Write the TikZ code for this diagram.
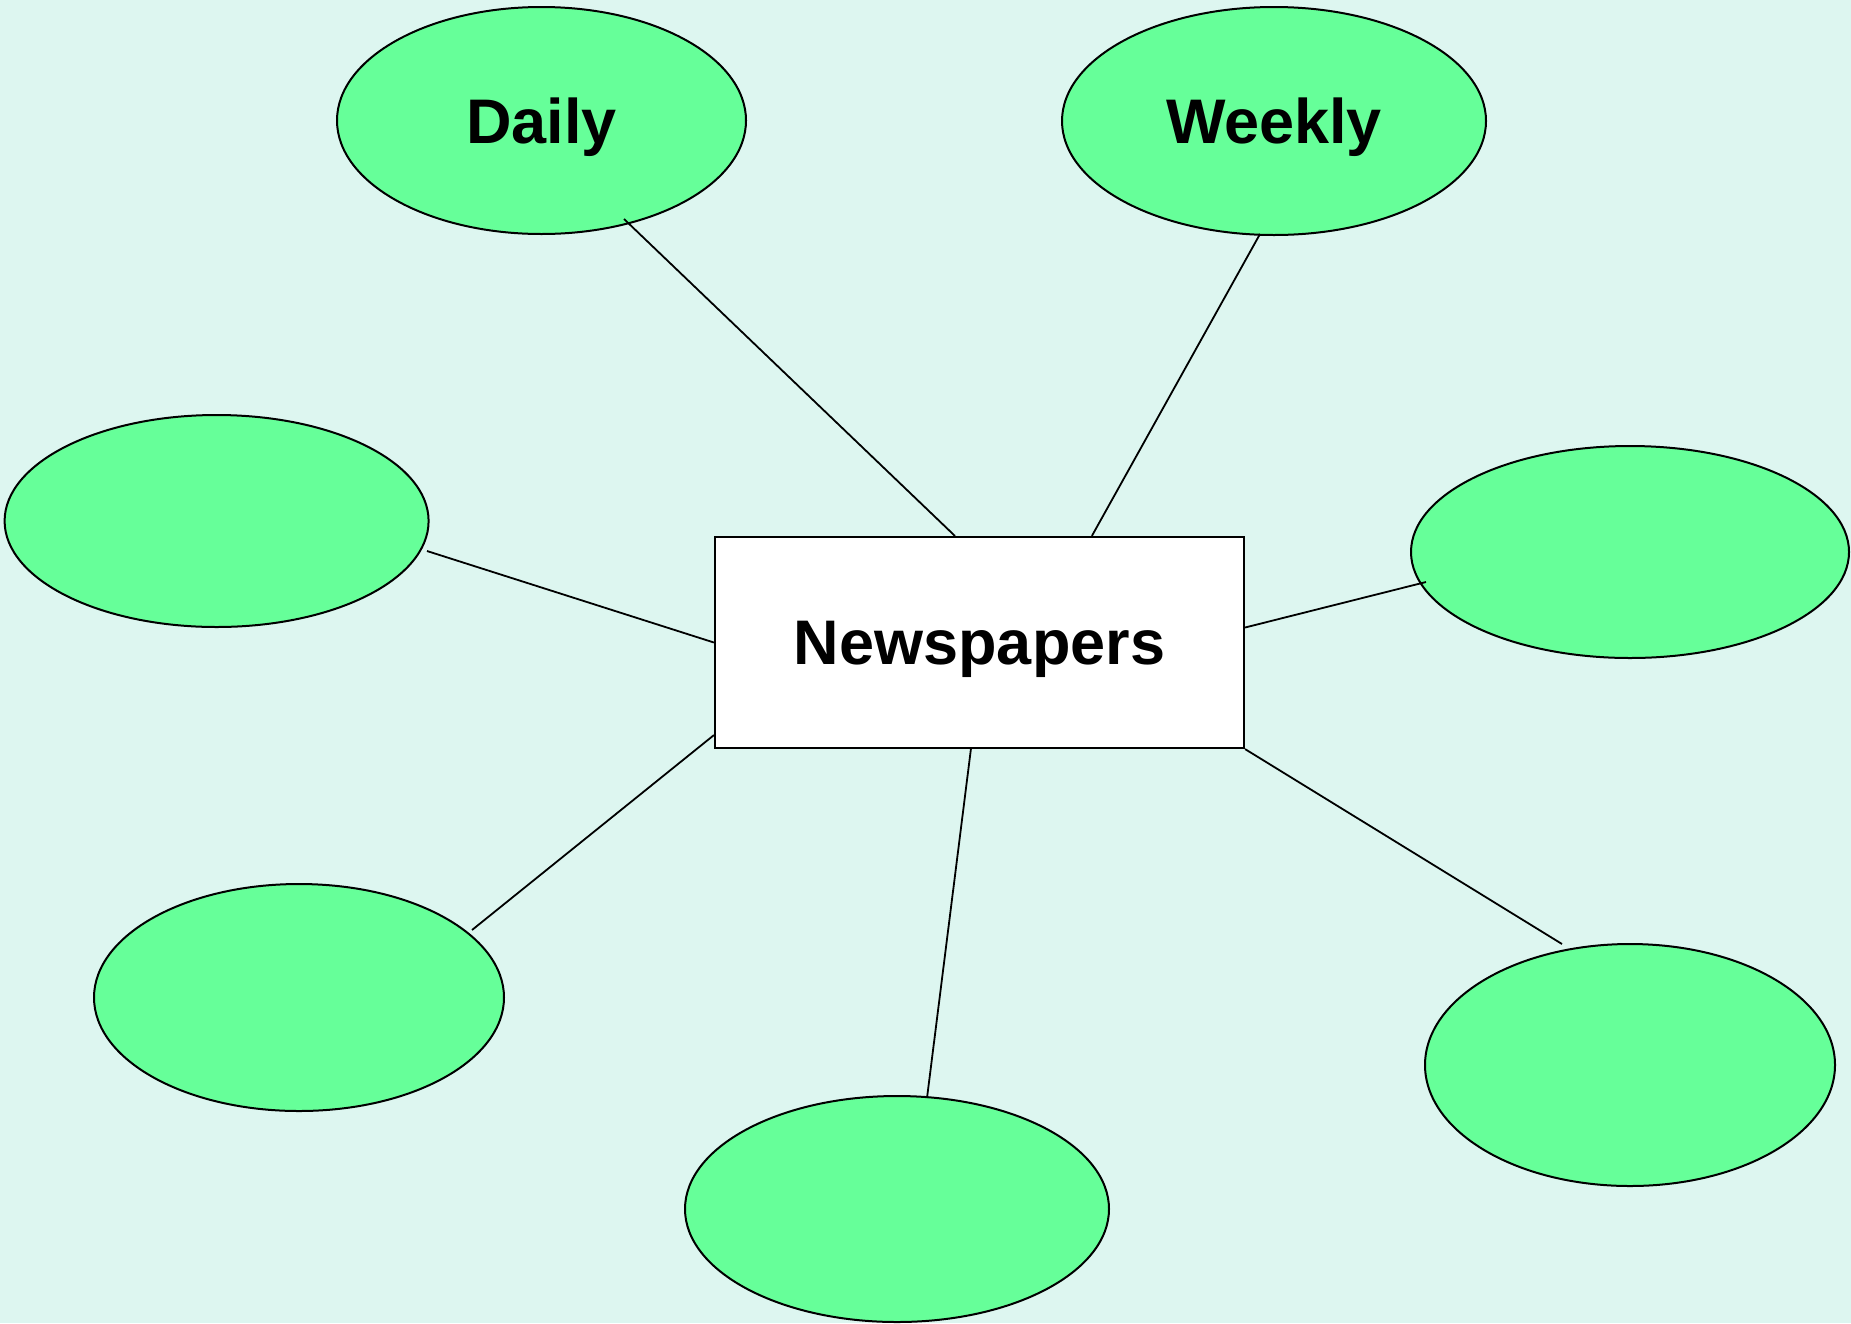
\documentclass[tikz,border=0pt]{standalone}
\usepackage{fontspec}
\setmainfont{Liberation Sans}
\usetikzlibrary{shapes.geometric}
\definecolor{bgmint}{HTML}{DDF6F0}
\definecolor{ovalgreen}{HTML}{66FF99}
\tikzset{
  oval/.style={ellipse, draw=black, line width=2pt, fill=ovalgreen, inner sep=0pt,
    font=\bfseries\fontsize{63}{70}\selectfont, text depth=0pt},
  hub/.style={rectangle, draw=black, line width=2.2pt, fill=white, inner sep=0pt,
    minimum width=529pt, minimum height=211pt,
    font=\bfseries\fontsize{63}{70}\selectfont, text depth=0pt},
  link/.style={draw=black, line width=1.8pt}
}
\begin{document}
\begin{tikzpicture}[x=1pt,y=-1pt]
\fill[bgmint] (0,0) rectangle (1851,1323);
\useasboundingbox (0,0) rectangle (1851,1323);

\node[oval, minimum width=409pt, minimum height=227pt] (daily) at (541.5,120.5) {Daily};
\node[oval, minimum width=424pt, minimum height=228pt] (weekly) at (1274,121) {Weekly};
\node[oval, minimum width=424pt, minimum height=212pt] (lmid) at (216.6,521) {};
\node[oval, minimum width=438pt, minimum height=212pt] (rmid) at (1630,552) {};
\node[oval, minimum width=410pt, minimum height=227pt] (bleft) at (299,997.5) {};
\node[oval, minimum width=424pt, minimum height=226pt] (bottom) at (897,1209) {};
\node[oval, minimum width=410pt, minimum height=242pt] (bright) at (1630,1065) {};

\node[hub] (news) at (979.5,642.5) {Newspapers};

% ends on the ellipses
\coordinate (e1) at (624,219);
\coordinate (e2) at (1260,234);
\coordinate (e3) at (427,551);
\coordinate (e4) at (1426,582);
\coordinate (e5) at (472,930);
\coordinate (e6) at (927,1098);
\coordinate (e7) at (1562,944);
% ends on the box
\coordinate (r1) at ([xshift=241pt]news.north west);
\coordinate (r2) at ([xshift=378pt]news.north west);
\coordinate (r3) at (news.west);
\coordinate (r4) at ([yshift=15pt]news.east);
\coordinate (r5) at ([yshift=14pt]news.south west);
\coordinate (r6) at ([xshift=257pt]news.south west);
\coordinate (r7) at (news.south east);

\draw[link] (e1) -- (r1);
\draw[link] (e2) -- (r2);
\draw[link] (e3) -- (r3);
\draw[link] (e4) -- (r4);
\draw[link] (e5) -- (r5);
\draw[link] (e6) -- (r6);
\draw[link] (e7) -- (r7);
\end{tikzpicture}
\end{document}
